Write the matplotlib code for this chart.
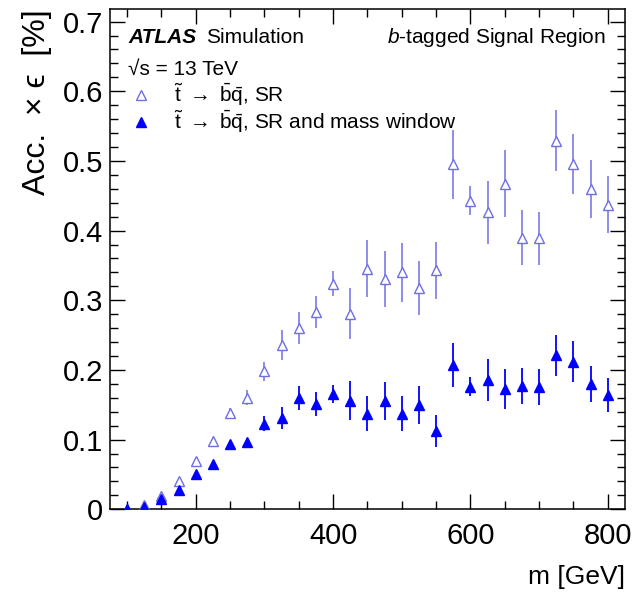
import numpy as np
import matplotlib
matplotlib.use("Agg")
import matplotlib.pyplot as plt
from matplotlib.ticker import MultipleLocator
from matplotlib.lines import Line2D

plt.rcParams['font.family'] = ['Liberation Sans', 'DejaVu Sans']
plt.rcParams['mathtext.fontset'] = 'custom'
plt.rcParams['mathtext.rm'] = 'Liberation Sans'
plt.rcParams['mathtext.it'] = 'Liberation Sans:italic'
plt.rcParams['mathtext.fallback'] = 'stix'

# Masa del stop (GeV)
mass = [100, 125, 150, 175, 200, 225, 250, 275, 300, 325, 350, 375, 400, 425, 450,
        475, 500, 525, 550, 575, 600, 625, 650, 675, 700, 725, 750, 775, 800]

# Acc x eff en SR (%)
accSR = [0.000, 0.006, 0.019, 0.040, 0.069, 0.098, 0.138, 0.160, 0.198, 0.236, 0.260,
         0.283, 0.324, 0.281, 0.345, 0.330, 0.340, 0.318, 0.343, 0.495, 0.443, 0.426,
         0.467, 0.390, 0.389, 0.529, 0.496, 0.460, 0.437]
errSR = [0.002, 0.003, 0.004, 0.005, 0.005, 0.006, 0.007, 0.011, 0.014, 0.022, 0.023,
         0.023, 0.018, 0.036, 0.041, 0.040, 0.042, 0.039, 0.041, 0.050, 0.021, 0.045,
         0.048, 0.039, 0.038, 0.044, 0.043, 0.042, 0.041]

# Acc x eff en SR y ventana de masa (%)
accMW = [0.000, 0.004, 0.015, 0.028, 0.050, 0.065, 0.093, 0.096, 0.123, 0.131, 0.160,
         0.151, 0.166, 0.156, 0.137, 0.155, 0.137, 0.150, 0.112, 0.207, 0.176, 0.185,
         0.173, 0.177, 0.175, 0.221, 0.212, 0.180, 0.164]
errMW = [0.002, 0.002, 0.003, 0.003, 0.004, 0.004, 0.005, 0.006, 0.011, 0.016, 0.017,
         0.017, 0.013, 0.028, 0.025, 0.027, 0.025, 0.027, 0.023, 0.032, 0.014, 0.030,
         0.029, 0.026, 0.026, 0.029, 0.029, 0.026, 0.025]

openColor = '#6f6fe4'
fullColor = '#0000ff'

fig = plt.figure(figsize=(6.34, 5.94), dpi=100)
ax = fig.add_axes([0.1735, 0.1426, 0.8123, 0.8422])

# Puntos con barras de error
ax.errorbar(mass, accSR, yerr=errSR, fmt='^', color=openColor, mfc='white',
            mec=openColor, ms=7.5, mew=1.0, elinewidth=1.1, capsize=0, zorder=3)
ax.errorbar(mass, accMW, yerr=errMW, fmt='^', color=fullColor, mfc=fullColor,
            mec=fullColor, ms=6.8, elinewidth=1.3, capsize=0, zorder=4)

ax.set_xlim(75, 825)
ax.set_ylim(0, 0.718)

# Estilo de ejes tipo ATLAS
ax.xaxis.set_major_locator(MultipleLocator(200))
ax.xaxis.set_minor_locator(MultipleLocator(50))
ax.yaxis.set_major_locator(MultipleLocator(0.1))
ax.yaxis.set_minor_locator(MultipleLocator(0.02))
ax.tick_params(which='both', direction='in', top=True, right=True, width=1.0, labelsize=21)
ax.tick_params(which='major', length=10.5)
ax.tick_params(which='minor', length=5.5)
ax.tick_params(axis='x', pad=9)
ax.tick_params(axis='y', pad=5)
ax.set_yticks([0, 0.1, 0.2, 0.3, 0.4, 0.5, 0.6, 0.7])
ax.set_yticklabels(['0', '0.1', '0.2', '0.3', '0.4', '0.5', '0.6', '0.7'])
for s in ax.spines.values():
    s.set_linewidth(1.1)

ax.set_xlabel('m [GeV]', fontsize=19, loc='right', labelpad=11)
ax.set_ylabel('Acc.  \u00d7 \u03f5  [%]', fontsize=23, loc='top', labelpad=8)

# Textos
ax.text(0.035, 0.932, 'ATLAS', transform=ax.transAxes, fontsize=15,
        fontweight='bold', style='italic')
ax.text(0.186, 0.932, 'Simulation', transform=ax.transAxes, fontsize=15)
ax.text(0.963, 0.932, '$b$-tagged Signal Region', transform=ax.transAxes,
        fontsize=15, ha='right')
ax.text(0.035, 0.868, '\u221as = 13 TeV', transform=ax.transAxes, fontsize=15)

# Leyenda
handles = [Line2D([], [], ls='none', marker='^', ms=7.5, mfc='white', mec=openColor, mew=1.0),
           Line2D([], [], ls='none', marker='^', ms=6.8, mfc=fullColor, mec=fullColor)]
labels = [r'$\mathrm{\tilde{t}}\ \rightarrow\ \mathrm{\bar{b}\bar{q}}$, SR',
          r'$\mathrm{\tilde{t}}\ \rightarrow\ \mathrm{\bar{b}\bar{q}}$, SR and mass window']
ax.legend(handles, labels, loc='upper left', bbox_to_anchor=(0.035, 0.855),
          frameon=False, fontsize=15, handlelength=1.2, handletextpad=1.0,
          labelspacing=0.0, borderaxespad=0, borderpad=0)

plt.savefig('out.png', dpi=100)
